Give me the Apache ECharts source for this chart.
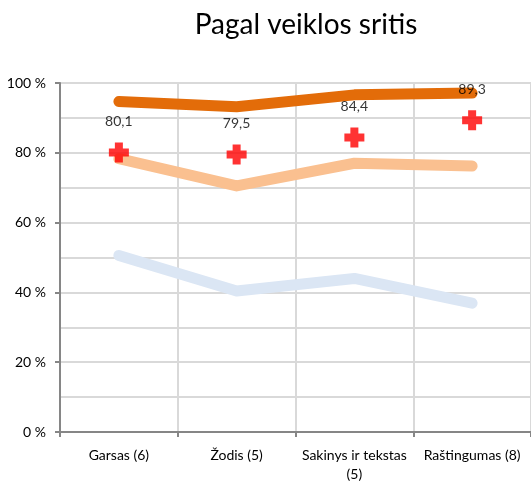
<!DOCTYPE html>
<html><head><meta charset="utf-8">
<script src="https://cdn.jsdelivr.net/npm/echarts@6/dist/echarts.min.js"></script>
<style>html,body{margin:0;padding:0;background:#fff}#c{width:531px;height:484px}</style>
</head><body><div id="c"></div>
<script>
const title = 'Pagal veiklos sritis';
const categories = ['Garsas (6)', 'Žodis (5)', 'Sakinys ir tekstas\n(5)', 'Raštingumas (8)'];
const darkSeries = [94.7, 93.2, 96.6, 97.1];
const lightSeries = [78.3, 70.5, 77.0, 76.2];
const blueSeries = [50.6, 40.4, 44.0, 36.9];
const crossValues = [80.1, 79.5, 84.4, 89.3];

const font = 'Lato, "Open Sans", sans-serif';
const chart = echarts.init(document.getElementById('c'));
chart.setOption({
  animation: false,
  title: { text: title, left: 301, textAlign: 'center', top: 6,
    textStyle: { fontFamily: font, fontSize: 28, fontWeight: 'normal', color: '#000' } },
  grid: { left: 60, right: 0, top: 83, bottom: 49, containLabel: false },
  xAxis: {
    type: 'category', data: categories, boundaryGap: true,
    axisLine: { lineStyle: { color: '#868686', width: 2 } },
    axisTick: { show: true, interval: 0, length: 5, lineStyle: { color: '#868686', width: 2 } },
    axisLabel: { interval: 0, color: '#000', fontFamily: font, fontSize: 14, margin: 14, lineHeight: 19 },
    splitLine: { show: true, interval: 0, lineStyle: { color: '#d9d9d9', width: 2 } }
  },
  yAxis: {
    type: 'value', min: 0, max: 100, interval: 20,
    axisLine: { show: true, lineStyle: { color: '#868686', width: 2 } },
    axisTick: { show: true, length: 5, lineStyle: { color: '#868686', width: 2 } },
    axisLabel: { color: '#000', fontFamily: font, fontSize: 14, margin: 14,
      formatter: v => v + ' %' },
    splitLine: { show: true, lineStyle: { color: '#d9d9d9', width: 2 } },
    minorTick: { show: false, splitNumber: 2 },
    minorSplitLine: { show: true, lineStyle: { color: '#d9d9d9', width: 2 } }
  },
  series: [
    { type: 'line', data: blueSeries, symbol: 'none', z: 2,
      lineStyle: { color: '#DBE6F4', width: 11, cap: 'round', join: 'round' } },
    { type: 'line', data: lightSeries, symbol: 'none', z: 2,
      lineStyle: { color: '#FAC090', width: 11, cap: 'round', join: 'round' } },
    { type: 'line', data: darkSeries, symbol: 'none', z: 2,
      lineStyle: { color: '#E36C09', width: 11, cap: 'round', join: 'round' } },
    { type: 'scatter', data: crossValues, z: 5,
      symbol: 'path://M6,0 L14,0 L14,6 L20,6 L20,14 L14,14 L14,20 L6,20 L6,14 L0,14 L0,6 L6,6 Z',
      symbolSize: 20,
      itemStyle: { color: '#FF0000' },
      label: { show: true, position: 'top', distance: 14, color: '#000', fontFamily: font, fontSize: 14,
        formatter: p => p.value.toFixed(1).replace('.', ',') } }
  ]
});
</script></body></html>
